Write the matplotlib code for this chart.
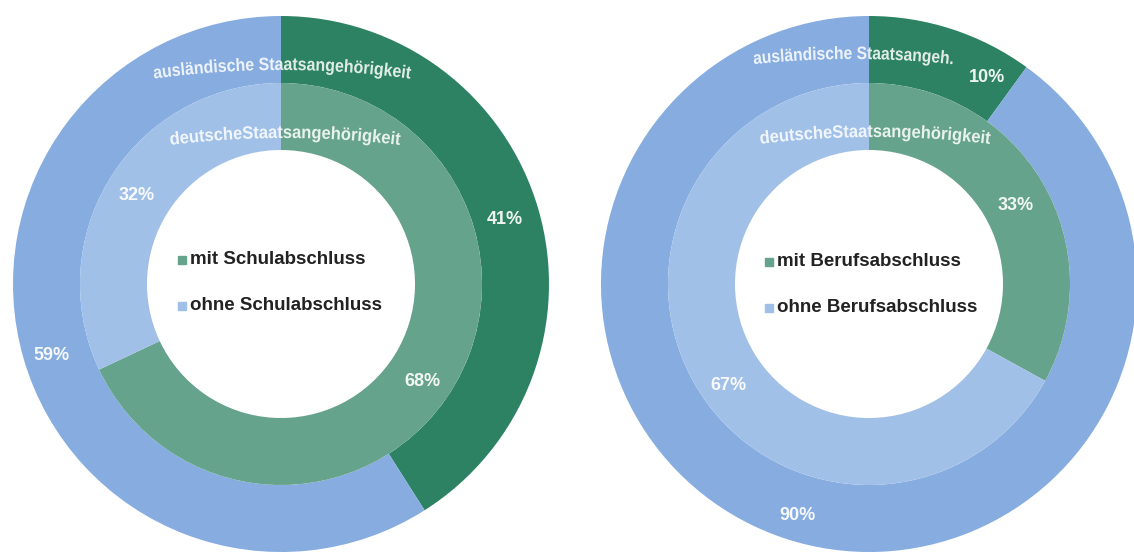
import numpy as np
import matplotlib.pyplot as plt
from matplotlib.font_manager import FontProperties
from matplotlib.textpath import TextPath
from matplotlib.patches import PathPatch
from matplotlib.path import Path

# --- Daten: Anteile in Prozent ---
schule_auslaendisch = [41, 59]   # mit / ohne Schulabschluss
schule_deutsch = [68, 32]
beruf_auslaendisch = [10, 90]    # mit / ohne Berufsabschluss
beruf_deutsch = [33, 67]

legend_schule = ["mit Schulabschluss", "ohne Schulabschluss"]
legend_beruf = ["mit Berufsabschluss", "ohne Berufsabschluss"]

ring_labels_left = ["ausländische Staatsangehörigkeit", "deutscheStaatsangehörigkeit"]
ring_labels_right = ["ausländische Staatsangeh.", "deutscheStaatsangehörigkeit"]

# colours: outer ring (ausländisch) / inner ring (deutsch)
outer_colors = ["#2E8264", "#86ACE0"]
inner_colors = ["#66A38C", "#A0C0E8"]

W, H = 1134, 552
fig = plt.figure(figsize=(W / 100, H / 100), dpi=100)
ax = fig.add_axes([0, 0, 1, 1])

R_OUT, R_MID, R_IN = 268, 201, 134
centers = [(281, H - 284), (869, H - 284)]

bold = dict(family="Liberation Sans", weight="bold")


def donut(center, outer, inner):
    ax.pie(outer, radius=R_OUT, center=center, colors=outer_colors,
           startangle=90, counterclock=False,
           wedgeprops=dict(width=R_OUT - R_MID, linewidth=0))
    ax.pie(inner, radius=R_MID, center=center, colors=inner_colors,
           startangle=90, counterclock=False,
           wedgeprops=dict(width=R_MID - R_IN, linewidth=0))


def arc_text(s, xc, y_base, span, bend=950, size=18):
    # caption outline bent onto a flat arc; top baseline point at (xc, y_base),
    # squeezed horizontally so it covers `span` pixels
    tp = TextPath((0, 0), s, size=size, prop=FontProperties(**bold))
    verts = tp.vertices.copy()
    x0, x1 = verts[:, 0].min(), verts[:, 0].max()
    u = (verts[:, 0] - (x0 + x1) / 2) * span / (x1 - x0)
    phi = u / bend
    rad = bend + verts[:, 1]
    yb = H - y_base
    new = np.column_stack([xc + rad * np.sin(phi), yb - bend + rad * np.cos(phi)])
    ax.add_patch(PathPatch(Path(new, tp.codes), facecolor="white", alpha=0.85,
                           linewidth=0))


def pct(x, y, value):
    ax.text(x, H - y, f"{value}%", ha="center", va="center", fontsize=13,
            color="white", alpha=0.92, **bold)


def legend(x, ys, labels):
    for y, lab, col in zip(ys, labels, inner_colors):
        ax.plot(x, H - y, marker="s", markersize=6, color=col, linestyle="none")
        ax.text(x + 8, H - y, lab, ha="left", va="center", fontsize=13.5,
                color="#222222", **bold)


donut(centers[0], schule_auslaendisch, schule_deutsch)
donut(centers[1], beruf_auslaendisch, beruf_deutsch)

ax.set_xlim(0, W)
ax.set_ylim(0, H)
ax.set_aspect("equal")
ax.axis("off")

# ring captions
arc_text(ring_labels_left[0], 282, 70, 257)
arc_text(ring_labels_left[1], 285, 138, 230)
arc_text(ring_labels_right[0], 853, 59, 199)
arc_text(ring_labels_right[1], 875, 137, 230)

# percentages
pct(505, 220, schule_auslaendisch[0])
pct(51, 356, schule_auslaendisch[1])
pct(422, 382, schule_deutsch[0])
pct(137, 196, schule_deutsch[1])
pct(987, 78, beruf_auslaendisch[0])
pct(797, 515, beruf_auslaendisch[1])
pct(1016, 206, beruf_deutsch[0])
pct(728, 385, beruf_deutsch[1])

legend(182, [260, 306], legend_schule)
legend(769, [262, 308], legend_beruf)

fig.savefig("out.png", dpi=100)
